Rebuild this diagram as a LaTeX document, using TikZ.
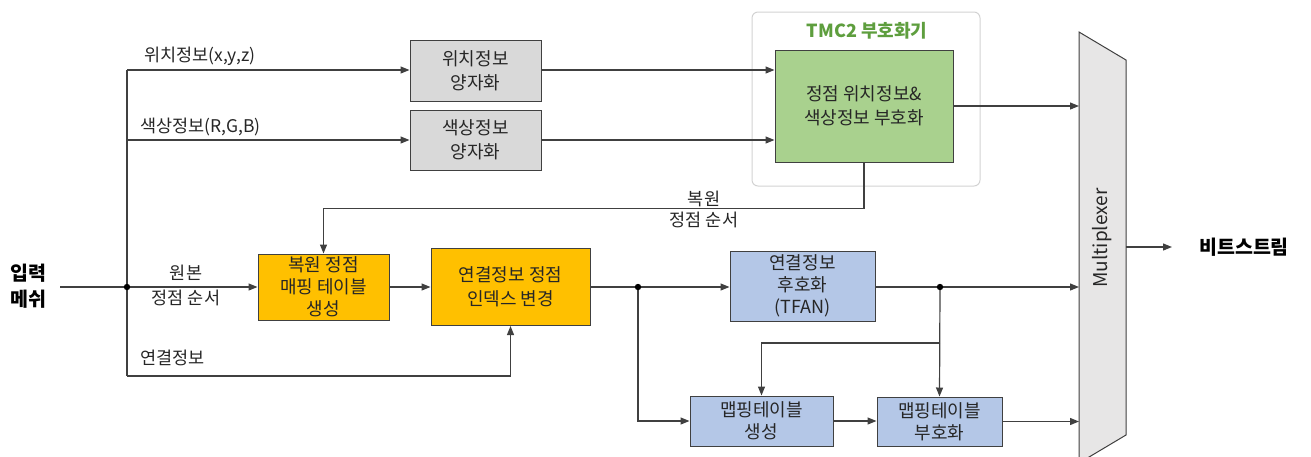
\documentclass[tikz,border=0pt]{standalone}
\usepackage{fontspec}
\setmainfont{Noto Sans CJK KR}
\usetikzlibrary{arrows.meta}
\definecolor{ln}{HTML}{404040}
\definecolor{gbox}{HTML}{D9D9D9}
\definecolor{grbox}{HTML}{A9D18E}
\definecolor{obox}{HTML}{FFC000}
\definecolor{bbox}{HTML}{B4C7E7}
\definecolor{muxfill}{HTML}{E7E6E6}
\definecolor{tmcgreen}{HTML}{5E9E3E}
\definecolor{txt}{HTML}{262626}
\tikzset{
  blk/.style={draw=ln, line width=1pt, align=center, inner sep=0pt, text=txt,
    font=\fontsize{18}{22}\selectfont},
  conn/.style={draw=ln, line width=1.2pt, -{Triangle[length=9pt,width=7pt]}},
  wire/.style={draw=ln, line width=1.2pt},
  lbl/.style={inner sep=0pt, text=txt, align=center, font=\fontsize{17.5}{21}\selectfont},
  big/.style={inner sep=0pt, text=black, align=center, font=\bfseries\fontsize{19.5}{26}\selectfont},
}
\begin{document}
\begin{tikzpicture}[x=1pt,y=-1pt]
\useasboundingbox (0,0) rectangle (1311,456);
% TMC2 frame
\node[draw=gray!35, line width=1pt, rounded corners=6pt, minimum width=228, minimum height=174, inner sep=0] (tmc) at (866,99) {};
\node[inner sep=0, text=tmcgreen, font=\bfseries\fontsize{18}{20}\selectfont] (tmct) at (867,31) {TMC2 부호화기};
% boxes
\node[blk, fill=gbox, minimum width=131, minimum height=61, font=\fontsize{18}{24}\selectfont] (g1) at (475.5,70.5) {위치정보\\양자화};
\node[blk, fill=gbox, minimum width=131, minimum height=60, font=\fontsize{18}{24}\selectfont] (g2) at (475.5,140) {색상정보\\양자화};
\node[blk, fill=grbox, minimum width=178, minimum height=112, font=\fontsize{18}{24}\selectfont] (gr) at (864,106) {정점 위치정보\&\\색상정보 부호화};
\node[blk, fill=obox, minimum width=131, minimum height=66] (o1) at (323.5,287) {복원 정점\\매핑 테이블\\생성};
\node[blk, fill=obox, minimum width=159, minimum height=77, font=\fontsize{18}{24}\selectfont] (o2) at (510.5,287) {연결정보 정점\\인덱스 변경};
\node[blk, fill=bbox, minimum width=145, minimum height=70] (tf) at (802.5,286) {연결정보\\후호화\\(TFAN)};
\node[blk, fill=bbox, minimum width=143, minimum height=50] (mg) at (761.5,421) {맵핑테이블\\생성};
\node[blk, fill=bbox, minimum width=125, minimum height=49] (me) at (939.5,421.5) {맵핑테이블\\부호화};
% multiplexer
\draw[draw=ln, fill=muxfill, line width=1pt] (1079,32) -- (1126,60) -- (1126,435) -- (1079,463) -- cycle;
\node[rotate=90, inner sep=0, text=txt, font=\fontsize{19}{20}\selectfont] (mux) at (1102,238) {Multiplexer};
\coordinate (muxin) at (1079,247);
\coordinate (muxout) at (1126,247);
% input / output
\node[big] (in) at (28,286) {입력\\메쉬};
\node[big, anchor=west] (bs) at (1199,247) {비트스트림};
\draw[conn] (muxout) -- ([xshift=-27pt]bs.west);
% trunk
\coordinate (j0) at (127,287);
\coordinate (t1) at (127,70);
\coordinate (t2) at (127,140);
\coordinate (t3) at (127,376);
\draw[wire] ([xshift=14pt]in.east |- j0) -- (j0);
\draw[wire] (t1) -- (t3);
\draw[conn] (t1) -- (t1 -| g1.west);
\draw[conn] (t2) -- (t2 -| g2.west);
\node[lbl, anchor=west] (l1) at (144,56) {위치정보(x,y,z)};
\node[lbl, anchor=west] (l2) at (140,127) {색상정보(R,G,B)};
\draw[conn] (t1 -| g1.east) -- (t1 -| gr.west);
\draw[conn] (t2 -| g2.east) -- (t2 -| gr.west);
\draw[conn] (gr.east) -- (gr.east -| muxin);
% feedback
\draw[conn] (gr.south) -- ++(0,46) -| (o1.north);
\node[lbl] (fbl) at (704,209) {복원\\정점 순서};
% main row
\draw[conn] (j0) -- (o1.west);
\node[lbl, font=\fontsize{17.5}{25}\selectfont] (orig) at (186,285) {원본\\정점 순서};
\draw[conn] (o1.east) -- (o1.east -| o2.west);
\draw[conn] (t3) -| (o2.south);
\node[lbl, anchor=west] (l3) at (140,358) {연결정보};
\coordinate (j1) at (638,287);
\coordinate (j2) at (940,287);
\coordinate (j3) at (940,343);
\draw[wire] (o2.east) -- (j1);
\draw[conn] (j1) -- (j1 -| tf.west);
\draw[conn] (j1) |- (mg.west);
\draw[wire] (j1 -| tf.east) -- (j2);
\draw[conn] (j2) -- (j2 -| muxin);
\draw[conn] (j2) -- (me.north);
\draw[conn] (j3) -| (mg.north);
\draw[conn] (mg.east) -- (mg.east -| me.west);
\draw[conn] (me.east) -- (me.east -| muxin);
\fill[black] (j0) circle (3.2) (j1) circle (3.2) (j2) circle (3.2);
\end{tikzpicture}
\end{document}
